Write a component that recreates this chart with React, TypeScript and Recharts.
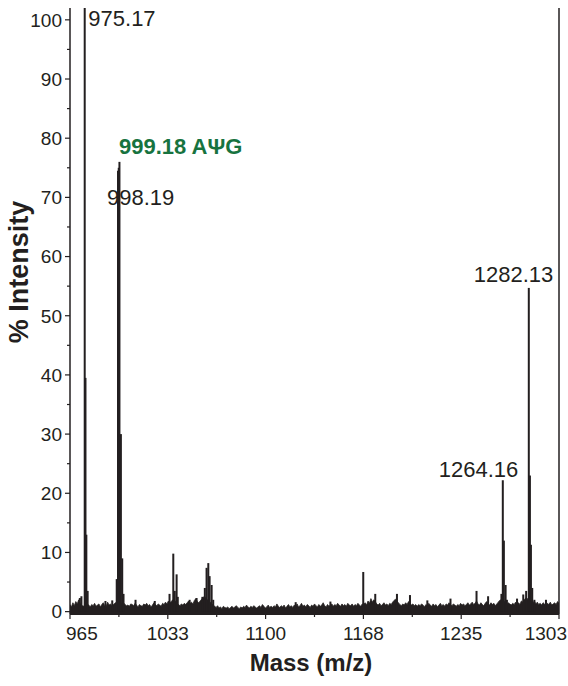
import React from 'react';
import { ComposedChart, Area, Bar, XAxis, YAxis, ReferenceLine, ReferenceDot } from 'recharts';

const FONT = '"Liberation Sans", Arial, Helvetica, sans-serif';
const INK = '#231f20';
const GREEN = '#17733f';

// baseline noise, one value per m/z unit starting at 965
const MZ_START = 965;
const noise: number[] = [
  1.2, 0.8, 1.5, 1.0, 1.7, 1.3, 2.0, 1.4, 1.1, 0.9, // 965
  1.0, 0.9, 1.3, 1.1, 0.8, 1.2, 1.0, 1.4, 0.9, 1.1, // 975
  1.3, 0.8, 1.2, 1.5, 1.0, 0.9, 1.6, 1.1, 1.3, 1.0, // 985
  1.2, 1.4, 1.6, 1.5, 1.4, 1.6, 1.3, 1.5, 1.2, 1.0, // 995
  1.1, 0.9, 1.3, 1.2, 1.0, 1.4, 1.1, 0.8, 1.2, 1.0, // 1005
  0.9, 1.3, 1.1, 1.4, 1.0, 1.2, 0.8, 1.1, 1.5, 1.2, // 1015
  1.0, 1.3, 1.1, 0.9, 1.4, 1.2, 1.6, 1.3, 1.8, 1.5, // 1025
  1.7, 2.0, 1.6, 1.8, 1.4, 1.2, 1.0, 1.3, 1.1, 1.4, // 1035
  1.2, 1.5, 1.8, 1.4, 1.6, 1.3, 1.9, 2.2, 1.7, 1.5, // 1045
  1.8, 2.1, 2.4, 2.6, 2.2, 2.0, 1.8, 1.6, 1.3, 1.1, // 1055
  0.9, 0.7, 1.0, 0.6, 0.8, 0.5, 0.9, 0.7, 0.6, 0.8, // 1065
  0.5, 0.7, 0.9, 0.6, 0.8, 1.0, 0.7, 0.5, 0.8, 0.6, // 1075
  0.9, 0.7, 1.1, 0.8, 0.6, 0.9, 0.7, 1.0, 0.8, 0.6, // 1085
  0.8, 1.0, 0.7, 1.2, 0.9, 0.6, 0.8, 1.1, 0.7, 0.9, // 1095
  0.7, 1.0, 0.8, 1.3, 0.9, 0.7, 1.0, 0.8, 1.1, 0.6, // 1105
  0.9, 1.2, 0.8, 1.0, 0.7, 1.1, 0.9, 1.3, 0.8, 1.0, // 1115
  1.4, 0.9, 1.1, 0.8, 1.2, 1.0, 0.7, 1.1, 0.9, 1.3, // 1125
  1.0, 0.8, 1.2, 0.9, 1.1, 1.5, 1.0, 0.8, 1.2, 0.9, // 1135
  1.1, 1.3, 0.9, 1.2, 1.0, 1.4, 1.1, 0.9, 1.3, 1.0, // 1145
  1.2, 0.9, 1.4, 1.1, 1.0, 1.3, 0.9, 1.2, 1.0, 1.4, // 1155
  1.1, 0.9, 1.3, 1.2, 1.5, 1.1, 1.8, 1.4, 2.2, 1.6, // 1165
  2.0, 1.7, 1.3, 1.1, 1.4, 1.0, 1.2, 1.5, 1.1, 1.3, // 1175
  1.0, 1.4, 1.2, 1.6, 1.9, 2.1, 1.8, 1.5, 1.2, 1.0, // 1185
  1.3, 1.1, 1.5, 1.2, 1.7, 1.4, 1.1, 1.3, 1.0, 1.2, // 1195
  0.9, 1.2, 1.0, 1.3, 1.1, 0.8, 1.2, 1.0, 1.4, 1.1, // 1205
  0.9, 1.3, 1.0, 1.2, 0.8, 1.1, 1.4, 1.0, 1.2, 0.9, // 1215
  1.3, 1.1, 1.5, 1.2, 1.0, 1.3, 1.1, 0.9, 1.2, 1.0, // 1225
  1.4, 1.1, 1.3, 1.0, 1.2, 1.5, 1.1, 1.3, 1.6, 1.2, // 1235
  1.4, 1.8, 1.3, 1.1, 1.5, 1.2, 1.0, 1.4, 1.7, 1.3, // 1245
  1.1, 1.5, 1.2, 1.4, 1.0, 1.3, 1.6, 1.9, 2.0, 1.6, // 1255
  1.8, 1.4, 1.2, 1.5, 1.3, 1.1, 1.4, 1.2, 1.6, 1.3, // 1265
  1.5, 1.2, 1.8, 1.6, 2.0, 2.3, 2.1, 2.4, 1.9, 1.7, // 1275
  1.5, 1.8, 1.3, 1.6, 1.2, 1.4, 1.1, 1.5, 1.3, 1.0, // 1285
  1.4, 1.2, 1.6, 1.1, 1.3, 1.5, 1.2, 1.7, 1.4, // 1295
];

// discrete peaks [m/z, % intensity]
const peaks: [number, number][] = [
  [971.8, 2.3], [972.9, 2.6],
  [975.17, 102], [975.7, 39.5], [976.3, 13], [977.2, 3.5],
  [989.5, 1.8], [994.2, 1.9],
  [997.3, 5.5], [998.19, 74.5], [998.7, 75], [999.18, 76], [1000.18, 30], [1001.1, 9], [1002.0, 3],
  [1010.3, 2.0], [1023.6, 1.8],
  [1033.8, 3], [1036.4, 9.8], [1037.4, 3.5], [1038.7, 6.3], [1039.5, 2.5],
  [1047.7, 2.0], [1052.5, 2.3],
  [1056.5, 2.5], [1058.2, 4], [1059.4, 7.4], [1060.6, 8.2], [1061.5, 6], [1062.9, 4.5], [1064.0, 2],
  [1121.0, 1.6], [1145.0, 1.7],
  [1167.7, 6.7], [1176.0, 3], [1191.0, 3], [1200.0, 2.8],
  [1212.0, 1.9], [1228.0, 2.2], [1246.0, 3.5], [1254.0, 2.6],
  [1263.2, 3], [1264.16, 22.2], [1264.9, 12], [1266.1, 4.5], [1267.0, 2],
  [1274.0, 2.2], [1278.3, 2.9], [1280.3, 3.5], [1282.13, 54.7], [1282.9, 23], [1283.6, 11.3], [1284.5, 4], [1286.0, 2],
  [1294.0, 2.0],
];

const xTicks = [965, 998.8, 1032.6, 1066.4, 1100.2, 1134, 1167.8, 1201.6, 1235.4, 1269.2, 1303];
const xTickLabels = ['965', '', '1033', '', '1100', '', '1168', '', '1235', '', '1303'];
const yTicks = [0, 5, 10, 15, 20, 25, 30, 35, 40, 45, 50, 55, 60, 65, 70, 75, 80, 85, 90, 95, 100];
const yTickLabels = ['0', '', '10', '', '20', '', '30', '', '40', '', '50', '', '60', '', '70', '', '80', '', '90', '', '100'];

const annotations = [
  { mz: 975.17, y: 100, text: '975.17' },
  { mz: 999.18, y: 76, text: '999.18 AΨG' },
  { mz: 998.19, y: 74.5, text: '998.19' },
  { mz: 1264.16, y: 22.2, text: '1264.16' },
  { mz: 1282.13, y: 54.7, text: '1282.13' },
];

const annStyle = [
  { dx: 3.6, dy: 6, anchor: 'start', bold: false, color: INK },
  { dx: -0.5, dy: -8, anchor: 'start', bold: true, color: GREEN },
  { dx: -11, dy: 34, anchor: 'start', bold: false, color: INK },
  { dx: 15.5, dy: -3.5, anchor: 'end', bold: false, color: INK },
  { dx: 24.5, dy: -6, anchor: 'end', bold: false, color: INK },
];

const data: { mz: number; noise?: number; peak?: number }[] = [
  ...noise.map((v, i) => ({ mz: MZ_START + i, noise: v })),
  ...peaks.map(([mz, v]) => ({ mz, peak: v })),
].sort((a, b) => a.mz - b.mz);

function YTick(props: any) {
  const { x, y, index } = props;
  const label = yTickLabels[index];
  const major = label !== '';
  return (
    <g>
      <line x1={x - (major ? 5 : 3)} x2={x} y1={y} y2={y} stroke={INK} strokeWidth={1.2} />
      {major && (
        <text x={x - 8} y={y} dy="0.36em" textAnchor="end" fontSize={19} fill={INK} fontFamily={FONT}>
          {label}
        </text>
      )}
    </g>
  );
}

function XTick(props: any) {
  const { x, y, index } = props;
  const label = xTickLabels[index];
  const major = label !== '';
  let anchor: 'start' | 'middle' | 'end' = 'middle';
  let tx = x;
  if (index === 0) {
    anchor = 'start';
    tx = x - 4;
  } else if (index === xTicks.length - 1) {
    anchor = 'end';
    tx = x + 8;
  }
  return (
    <g>
      <line x1={x} x2={x} y1={y} y2={y + (major ? 5 : 3)} stroke={INK} strokeWidth={1.2} />
      {major && (
        <text x={tx} y={y + 26} textAnchor={anchor} fontSize={19} fill={INK} fontFamily={FONT}>
          {label}
        </text>
      )}
    </g>
  );
}

// peak stick: fixed 2px wide, centred on the bar's x position
function Stick(props: any) {
  const { x, y, width, height } = props;
  if (x == null || y == null || !height) return null;
  const cx = x + (width || 0) / 2;
  return <rect x={cx - 1} y={y} width={2} height={height} fill={INK} />;
}

function renderAnn(p: any, i: number) {
  const vb = p.viewBox || {};
  const s = annStyle[i];
  return (
    <text
      x={vb.x + s.dx}
      y={vb.y + s.dy}
      textAnchor={s.anchor as any}
      fontSize={22}
      fontWeight={s.bold ? 'bold' : 'normal'}
      fill={s.color}
      fontFamily={FONT}
    >
      {annotations[i].text}
    </text>
  );
}

export default function App() {
  return (
    <div style={{ position: 'absolute', left: 0, top: 0, width: 568, height: 686, background: '#fff' }}>
      <ComposedChart width={568} height={686} data={data} margin={{ top: 8, right: 9, left: 0, bottom: 0 }}>
        <XAxis
          dataKey="mz"
          type="number"
          domain={[965, 1303]}
          ticks={xTicks}
          interval={0}
          allowDataOverflow
          height={72}
          tickLine={false}
          tickSize={0}
          tickMargin={0}
          tick={<XTick />}
          axisLine={{ stroke: INK, strokeWidth: 2 }}
          label={(p: any) => (
            <text x={311} y={671} textAnchor="middle" fontSize={24} fontWeight="bold" fill={INK} fontFamily={FONT}>
              Mass (m/z)
            </text>
          )}
        />
        <YAxis
          type="number"
          domain={[-0.4, 102]}
          ticks={yTicks}
          interval={0}
          allowDataOverflow
          width={70}
          tickLine={false}
          tickSize={0}
          tickMargin={0}
          tick={<YTick />}
          axisLine={{ stroke: INK, strokeWidth: 1.5 }}
          label={(p: any) => (
            <text
              x={28}
              y={272}
              transform="rotate(-90 28 272)"
              textAnchor="middle"
              fontSize={27}
              fontWeight="bold"
              fill={INK}
              fontFamily={FONT}
            >
              % Intensity
            </text>
          )}
        />
        <Area
          dataKey="noise"
          type="linear"
          stroke={INK}
          strokeWidth={0.8}
          fill={INK}
          fillOpacity={1}
          baseValue={-0.4}
          connectNulls
          dot={false}
          activeDot={false}
          isAnimationActive={false}
        />
        <Bar dataKey="peak" barSize={2} fill={INK} shape={<Stick />} isAnimationActive={false} />
        <ReferenceLine x={1303} stroke={INK} strokeWidth={1.5} />
        {annotations.map((a, i) => (
          <ReferenceDot
            key={a.text}
            x={a.mz}
            y={a.y}
            r={0}
            fill="none"
            stroke="none"
            ifOverflow="visible"
            label={(p: any) => renderAnn(p, i)}
          />
        ))}
      </ComposedChart>
    </div>
  );
}
